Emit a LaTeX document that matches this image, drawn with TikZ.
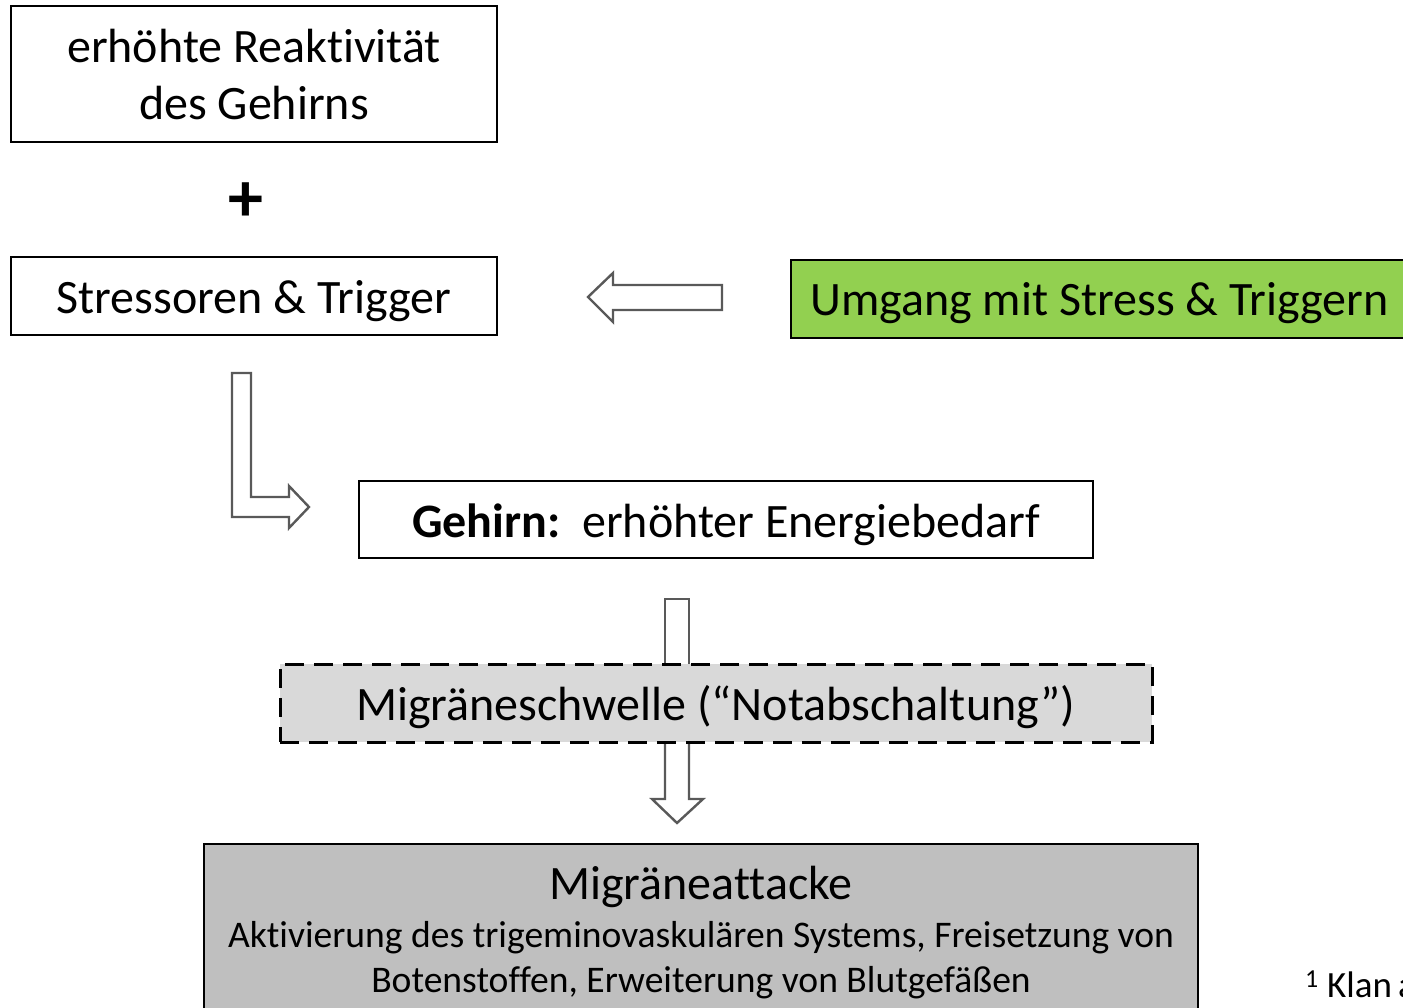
\documentclass[tikz,border=0pt]{standalone}
\usepackage{fontspec}
\setmainfont[Ligatures=NoCommon]{Carlito}
\definecolor{arrowgray}{HTML}{595959}
\definecolor{copegreen}{HTML}{92D050}
\definecolor{lightfill}{HTML}{D9D9D9}
\definecolor{midfill}{HTML}{BFBFBF}
\newcommand{\fsz}[1]{\fontsize{#1}{#1}\selectfont}
\begin{document}
\begin{tikzpicture}[x=1pt,y=-1pt,
  frame/.style={draw=black, line width=1.6pt, rectangle, inner sep=0pt},
  dashframe/.style={draw=black, line width=3pt, dash pattern=on 19pt off 10pt, rectangle, inner sep=0pt, fill=lightfill},
  label/.style={inner sep=0pt, anchor=base},
  blockarrow/.style={draw=arrowgray, line width=2.4pt, fill=white, line join=miter},
]
\useasboundingbox (0,0) rectangle (1403,1008);
\clip (0,0) rectangle (1403,1008);

% upper left boxes
\node[frame, minimum width=486pt, minimum height=136pt] (react) at (254,74) {};
\node[label] (reactA) at (254,63) {\fsz{48}erhöhte Reaktivität};
\node[label] (reactB) at (254,120) {\fsz{48}des Gehirns};

\node[inner sep=0pt] (plus) at (246,202) {\fsz{70}\bfseries +};

\node[frame, minimum width=486pt, minimum height=78pt] (stress) at (254,296) {};
\node[label] (stressT) at (254,313) {\fsz{48}Stressoren \& Trigger};

% coping box on the right
\node[frame, fill=copegreen, minimum width=617pt, minimum height=78pt] (cope) at (1099.5,299) {};
\node[label] (copeT) at (1099.5,316) {\fsz{48}Umgang mit Stress \& Triggern};

% left-pointing block arrow
\draw[blockarrow] (588,297) -- (613,273) -- (613,285) -- (722,285) -- (722,310)
  -- (613,310) -- (613,322) -- cycle;

% bent block arrow
\draw[blockarrow] (232,373) -- (251,373) -- (251,497) -- (289,497) -- (289,486)
  -- (309,507) -- (289,528) -- (289,517) -- (232,517) -- cycle;

% energy demand box
\node[frame, minimum width=734pt, minimum height=77pt] (brain) at (726,519.5) {};
\node[label] (brainT) at (726,537) {\fsz{48}\textbf{Gehirn:}\ \ erhöhter Energiebedarf};

% down arrows around the threshold box
\draw[blockarrow] (665,599) -- (689,599) -- (689,690) -- (665,690) -- cycle;
\draw[blockarrow] (665,720) -- (689,720) -- (689,799) -- (703,799) -- (677,823)
  -- (652,799) -- (665,799) -- cycle;

\node[dashframe, minimum width=872pt, minimum height=78pt] (thresh) at (716,703) {};
\node[label] (threshT) at (716,720) {\fsz{48}Migräneschwelle (“Notabschaltung”)};

% attack box
\node[frame, fill=midfill, minimum width=994pt, minimum height=180pt] (attack) at (701,934) {};
\node[label] (attackT) at (701,899) {\fsz{48}Migräneattacke};
\node[label] (attackA) at (701,947) {\fsz{37.6}Aktivierung des trigeminovaskulären Systems, Freisetzung von};
\node[label] (attackB) at (701,992) {\fsz{37.6}Botenstoffen, Erweiterung von Blutgefäßen};

% footnote
\node[label, anchor=base west] (foot) at (1305,997) {\fsz{37}\textsuperscript{1} Klan\hspace{6pt}a};
\end{tikzpicture}
\end{document}
